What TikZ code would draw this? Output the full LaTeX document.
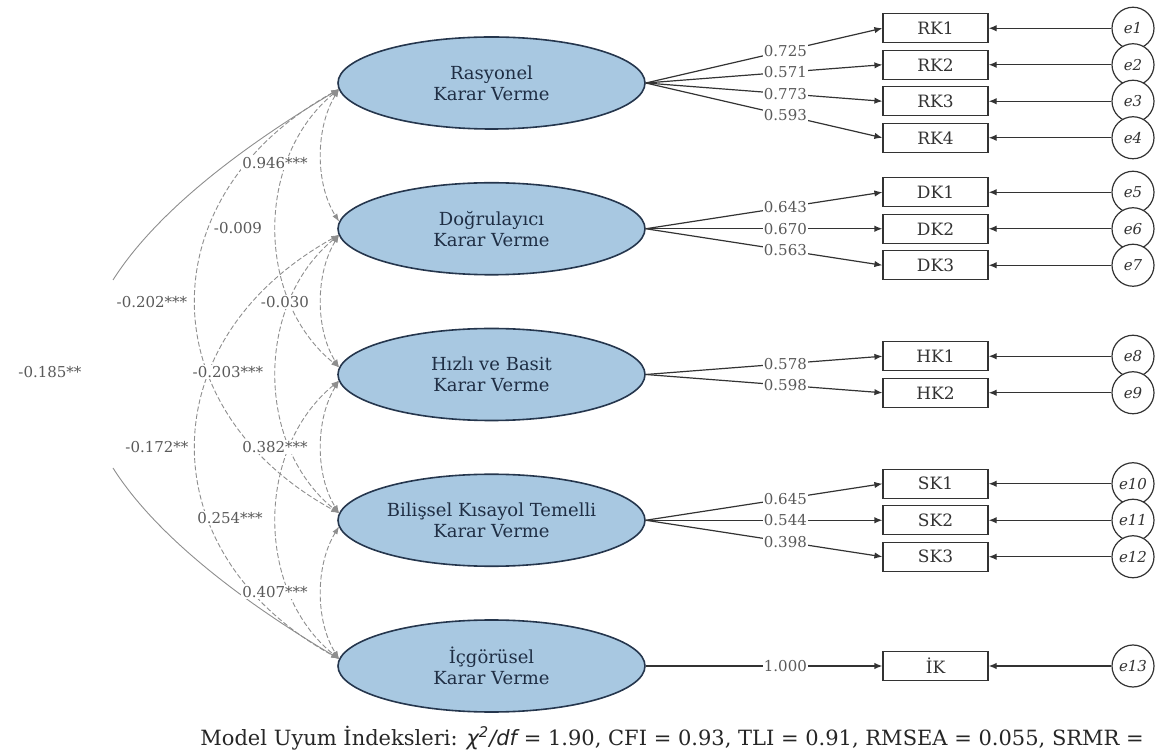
\documentclass[tikz,border=0pt]{standalone}
\usepackage{fontspec}
\setmainfont{DejaVu Serif}
\newfontfamily\fitsans{DejaVu Sans}
\usetikzlibrary{positioning, arrows.meta, shapes.geometric, calc}
\definecolor{latblue}{HTML}{A8C8E1}
\definecolor{latedge}{HTML}{25364D}
\definecolor{lattext}{HTML}{1F2E44}
\definecolor{covgray}{HTML}{8E8E8E}
\definecolor{labgray}{HTML}{5A5A5A}
\definecolor{inkgray}{HTML}{333333}

\tikzset{
  latent/.style={ellipse, draw=latedge, fill=latblue, line width=0.8pt,
    minimum width=153.5pt, minimum height=46pt, inner sep=0pt, align=center,
    text=lattext, font=\fontsize{9}{10.5}\selectfont},
  indic/.style={rectangle, draw=inkgray, fill=white, line width=0.6pt,
    minimum width=52.5pt, minimum height=14.5pt, inner sep=0pt, text=inkgray,
    font=\fontsize{8.5}{10}\selectfont},
  err/.style={circle, draw=inkgray, fill=white, line width=0.6pt,
    minimum size=21pt, inner sep=0pt, text=inkgray,
    font=\fontsize{7.5}{9}\selectfont\itshape},
  load/.style={draw=inkgray, line width=0.6pt, -{Latex[length=4pt,width=3.2pt]}},
  ldlab/.style={pos=0.59, fill=white, inner sep=0.6pt, text=labgray,
    font=\fontsize{7.5}{9}\selectfont},
  cov/.style={draw=covgray, line width=0.45pt, dash pattern=on 2.5pt off 1.2pt,
    {Latex[length=4pt,width=2.8pt]}-{Latex[length=4pt,width=2.8pt]}},
  covlab/.style={fill=white, inner sep=0.6pt, text=labgray,
    font=\fontsize{7.5}{9}\selectfont},
}

% curved covariance between two latent factors, bulging left
\newcommand{\covarc}[4]{%
  \draw[cov] ($(#1.west)+(2,6)$) .. controls ($(#1.west)+(#3,#4)$)
    and ($(#2.west)+(#3,-#4)$) .. ($(#2.west)+(2,-7)$);}

\begin{document}
\begin{tikzpicture}[x=0.5pt, y=-0.5pt]
  \useasboundingbox (0,0) rectangle (1157,753);

  % latent factors
  \node[latent] (rasy) at (491.5,83)    {Rasyonel\\Karar Verme};
  \node[latent] (dogr) at (491.5,228.75) {Doğrulayıcı\\Karar Verme};
  \node[latent] (hizl) at (491.5,374.5)  {Hızlı ve Basit\\Karar Verme};
  \node[latent] (bili) at (491.5,520.25) {Bilişsel Kısayol Temelli\\Karar Verme};
  \node[latent] (icgo) at (491.5,666)    {İçgörüsel\\Karar Verme};

  % indicators and their error terms
  \foreach \n/\t/\y/\e in {rk1/RK1/28.25/1, rk2/RK2/64.75/2, rk3/RK3/101.25/3,
      rk4/RK4/137.75/4, dk1/DK1/192.25/5, dk2/DK2/228.75/6, dk3/DK3/265.25/7,
      hk1/HK1/356.25/8, hk2/HK2/392.75/9, sk1/SK1/483.75/10, sk2/SK2/520.25/11,
      sk3/SK3/556.75/12, ik/İK/666/13}{
    \node[indic] (\n) at (935.5,\y) {\t};
    \node[err] (e\e) at (1133,\y) {e\e};
    \draw[load] (e\e.west) -- (\n.east);
  }

  % loadings
  \draw[load] (rasy.east) -- node[ldlab]{0.725} (rk1.west);
  \draw[load] (rasy.east) -- node[ldlab]{0.571} (rk2.west);
  \draw[load] (rasy.east) -- node[ldlab]{0.773} (rk3.west);
  \draw[load] (rasy.east) -- node[ldlab]{0.593} (rk4.west);
  \draw[load] (dogr.east) -- node[ldlab]{0.643} (dk1.west);
  \draw[load] (dogr.east) -- node[ldlab]{0.670} (dk2.west);
  \draw[load] (dogr.east) -- node[ldlab]{0.563} (dk3.west);
  \draw[load] (hizl.east) -- node[ldlab]{0.578} (hk1.west);
  \draw[load] (hizl.east) -- node[ldlab]{0.598} (hk2.west);
  \draw[load] (bili.east) -- node[ldlab]{0.645} (sk1.west);
  \draw[load] (bili.east) -- node[ldlab]{0.544} (sk2.west);
  \draw[load] (bili.east) -- node[ldlab]{0.398} (sk3.west);
  \draw[load] (icgo.east) -- node[ldlab]{1.000} (ik.west);

  % covariances
  \covarc{rasy}{dogr}{-22}{45}
  \covarc{dogr}{hizl}{-22}{45}
  \covarc{hizl}{bili}{-22}{45}
  \covarc{bili}{icgo}{-22}{45}
  \covarc{rasy}{hizl}{-82}{75}
  \covarc{dogr}{bili}{-82}{75}
  \covarc{hizl}{icgo}{-82}{75}
  \covarc{rasy}{bili}{-189}{112}
  \covarc{dogr}{icgo}{-189}{112}
  \coordinate (gap1) at (113,280);
  \coordinate (gap2) at (113,468);
  \draw[cov, solid, -{Latex[length=4pt,width=2.8pt]}] (gap1) .. controls (151,220) and (226.5,156) .. ($(rasy.west)+(2,6)$);
  \draw[cov, solid, -{Latex[length=4pt,width=2.8pt]}] (gap2) .. controls (151,528) and (226.5,592) .. ($(icgo.west)+(2,-7)$);

  % covariance values
  \node[covlab] (c12) at (275,163) {0.946***};
  \node[covlab] (c13) at (238,228) {-0.009};
  \node[covlab] (c14) at (152,302) {-0.202***};
  \node[covlab] (c23) at (285,302) {-0.030};
  \node[covlab] (c15) at (50,372)  {-0.185**};
  \node[covlab] (c24) at (228,372) {-0.203***};
  \node[covlab] (c25) at (157,447) {-0.172**};
  \node[covlab] (c34) at (275,447) {0.382***};
  \node[covlab] (c35) at (230,518) {0.254***};
  \node[covlab] (c45) at (275,592) {0.407***};

  \node[anchor=west, inner sep=0pt, text=black!85, font=\fontsize{10.5}{12}\selectfont]
    (uyum) at (200,738) {Model Uyum İndeksleri: {\fitsans\itshape χ\textsuperscript{2}/df} = 1.90, CFI = 0.93, TLI = 0.91, RMSEA = 0.055, SRMR =};
\end{tikzpicture}
\end{document}
